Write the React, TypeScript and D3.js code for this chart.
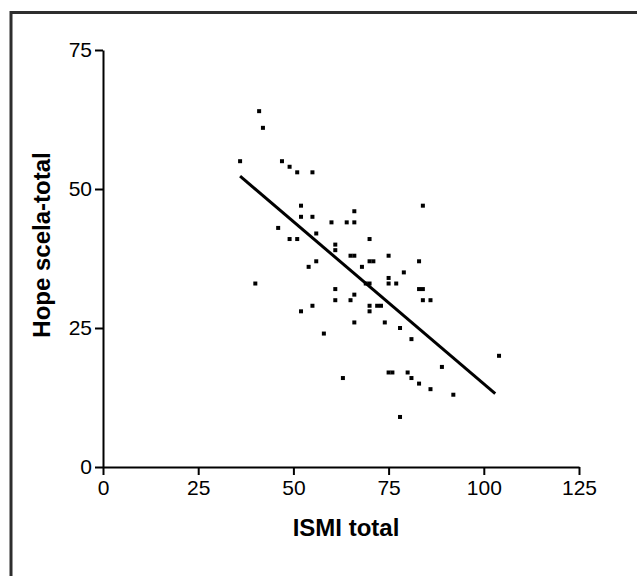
import React, { useEffect, useRef } from "react";
import * as d3 from "d3";

// ISMI total (x) vs Hope scale total (y)
const ismiTotal = [
  41, 42, 36, 47, 49, 51, 55, 52, 66, 52, 55, 46, 60, 64, 66, 56, 49, 51, 70, 61,
  61, 65, 66, 56, 70, 71, 54, 68, 40, 69, 70, 75, 83, 79, 75, 75, 77, 84, 83, 84,
  61, 66, 61, 65, 84, 86, 55, 70, 72, 73, 52, 70, 66, 74, 78, 58, 81, 104, 89, 75,
  76, 80, 81, 63, 83, 86, 92, 78,
];
const hopeTotal = [
  64, 61, 55, 55, 54, 53, 53, 47, 46, 45, 45, 43, 44, 44, 44, 42, 41, 41, 41, 40,
  39, 38, 38, 37, 37, 37, 36, 36, 33, 33, 33, 38, 37, 35, 34, 33, 33, 47, 32, 32,
  32, 31, 30, 30, 30, 30, 29, 29, 29, 29, 28, 28, 26, 26, 25, 24, 23, 20, 18, 17,
  17, 17, 16, 16, 15, 14, 13, 9,
];

// regression line end points as drawn
const fitX = [36, 103];
const fitY = [52.3, 13.2];

const xTicks = [0, 25, 50, 75, 100, 125];
const yTicks = [0, 25, 50, 75];

const W = 637;
const H = 576;
const left = 103;
const right = 579;
const top = 50;
const bottom = 467;

export default function App() {
  const ref = useRef<SVGSVGElement>(null);

  useEffect(() => {
    const svg = d3.select(ref.current);
    svg.selectAll("*").remove();

    const x = d3.scaleLinear().domain([0, 125]).range([left, right]);
    const y = d3.scaleLinear().domain([0, 75]).range([bottom, top]);

    // frame (only left and top edges visible in the crop)
    svg.append("path")
      .attr("d", `M11,${H} L11,12.5 L${W},12.5`)
      .attr("fill", "none")
      .attr("stroke", "#2e2e2e")
      .attr("stroke-width", 3);

    const font = "'Liberation Sans', Arial, sans-serif";

    const xAxis = svg.append("g")
      .attr("transform", `translate(0,${bottom})`)
      .call(d3.axisBottom(x).tickValues(xTicks).tickSize(8).tickSizeOuter(0).tickPadding(5));
    const yAxis = svg.append("g")
      .attr("transform", `translate(${left},0)`)
      .call(d3.axisLeft(y).tickValues(yTicks).tickSize(8).tickSizeOuter(0).tickPadding(3));

    [xAxis, yAxis].forEach((g) => {
      g.select(".domain").attr("stroke", "#000").attr("stroke-width", 2);
      g.selectAll(".tick line").attr("stroke", "#000").attr("stroke-width", 2);
      g.selectAll(".tick text")
        .attr("fill", "#000")
        .style("font-family", font)
        .style("font-size", "21px");
    });

    // points
    svg.append("g")
      .selectAll("rect")
      .data(ismiTotal.map((v, i) => [v, hopeTotal[i]]))
      .enter()
      .append("rect")
      .attr("x", (d) => x(d[0]) - 2)
      .attr("y", (d) => y(d[1]) - 2)
      .attr("width", 4)
      .attr("height", 4)
      .attr("fill", "#000");

    // fit line
    const line = d3.line<number>()
      .x((d) => x(d))
      .y((d, i) => y(fitY[i]));
    svg.append("path")
      .attr("d", line(fitX))
      .attr("fill", "none")
      .attr("stroke", "#000")
      .attr("stroke-width", 3);

    // axis titles
    svg.append("text")
      .attr("x", 346)
      .attr("y", 536)
      .attr("text-anchor", "middle")
      .style("font-family", font)
      .style("font-weight", "bold")
      .style("font-size", "24px")
      .text("ISMI total");

    svg.append("text")
      .attr("transform", `translate(50,245) rotate(-90)`)
      .attr("text-anchor", "middle")
      .style("font-family", font)
      .style("font-weight", "bold")
      .style("font-size", "24px")
      .text("Hope scela-total");
  }, []);

  return (
    <svg
      ref={ref}
      width={W}
      height={H}
      style={{ position: "absolute", left: 0, top: 0, background: "#fff" }}
    />
  );
}
